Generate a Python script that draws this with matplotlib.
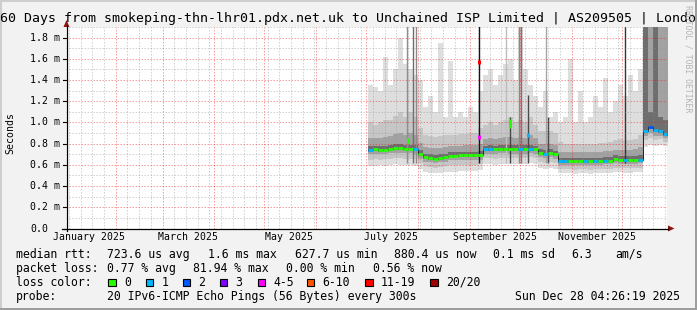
import pandas as pd
import matplotlib
matplotlib.use("Agg")
import matplotlib.pyplot as plt
import matplotlib.dates as mdates
from matplotlib.transforms import blended_transform_factory
from matplotlib.patches import Rectangle, Polygon
from matplotlib.lines import Line2D

W, H = 697, 310
MONO = "DejaVu Sans Mono"

# ---- data: 3-day bins from 2 Jul 2025, round trip times in ms ----
bin_start = pd.date_range("2025-07-02", periods=60, freq="3D")

rtt_median = [0.74, 0.745, 0.74, 0.742, 0.75, 0.755, 0.755, 0.752, 0.752, 0.745,
              0.70, 0.67, 0.665, 0.66, 0.665, 0.67, 0.685, 0.685, 0.69, 0.69,
              0.69, 0.69, 0.69, 0.745, 0.745, 0.745, 0.75, 0.75, 0.745, 0.745,
              0.745, 0.745, 0.75, 0.745, 0.71, 0.705, 0.712, 0.70, 0.635, 0.635,
              0.635, 0.635, 0.635, 0.635, 0.635, 0.635, 0.635, 0.64, 0.64, 0.655,
              0.65, 0.645, 0.645, 0.645, 0.65, 0.92, 0.96, 0.93, 0.92, 0.89]
rtt_p40 = [0.725, 0.73, 0.725, 0.727, 0.735, 0.74, 0.74, 0.737, 0.737, 0.73,
           0.685, 0.655, 0.65, 0.645, 0.65, 0.655, 0.67, 0.67, 0.675, 0.675,
           0.675, 0.675, 0.675, 0.73, 0.73, 0.73, 0.735, 0.735, 0.73, 0.73,
           0.73, 0.73, 0.735, 0.73, 0.695, 0.69, 0.697, 0.685, 0.62, 0.62,
           0.62, 0.62, 0.62, 0.62, 0.62, 0.62, 0.62, 0.625, 0.625, 0.64,
           0.635, 0.63, 0.63, 0.63, 0.635, 0.90, 0.94, 0.91, 0.90, 0.87]
rtt_p60 = [0.775, 0.78, 0.775, 0.78, 0.79, 0.795, 0.795, 0.79, 0.79, 0.785,
           0.74, 0.705, 0.70, 0.695, 0.70, 0.705, 0.72, 0.72, 0.725, 0.725,
           0.725, 0.725, 0.73, 0.78, 0.785, 0.78, 0.785, 0.79, 0.785, 0.785,
           0.785, 0.785, 0.79, 0.78, 0.745, 0.74, 0.75, 0.735, 0.665, 0.665,
           0.665, 0.665, 0.665, 0.665, 0.665, 0.665, 0.665, 0.67, 0.67, 0.69,
           0.685, 0.68, 0.68, 0.68, 0.69, 1.95, 1.10, 1.95, 1.05, 1.02]
rtt_p25 = [0.70, 0.705, 0.70, 0.70, 0.71, 0.715, 0.715, 0.71, 0.71, 0.705,
           0.66, 0.63, 0.625, 0.62, 0.625, 0.63, 0.645, 0.645, 0.65, 0.65,
           0.65, 0.65, 0.65, 0.705, 0.705, 0.705, 0.71, 0.71, 0.705, 0.705,
           0.705, 0.705, 0.71, 0.705, 0.67, 0.665, 0.67, 0.66, 0.60, 0.60,
           0.60, 0.595, 0.60, 0.60, 0.595, 0.60, 0.60, 0.605, 0.605, 0.615,
           0.61, 0.61, 0.61, 0.61, 0.615, 0.87, 0.90, 0.87, 0.87, 0.85]
rtt_p75 = [0.85, 0.85, 0.85, 0.86, 0.87, 0.89, 0.90, 0.88, 0.90, 0.88,
           0.81, 0.77, 0.76, 0.76, 0.76, 0.77, 0.78, 0.78, 0.78, 0.79,
           0.79, 0.79, 0.80, 0.84, 0.85, 0.84, 0.85, 0.86, 0.86, 0.85,
           0.86, 0.85, 0.88, 0.85, 0.80, 0.80, 0.80, 0.79, 0.72, 0.72,
           0.72, 0.72, 0.72, 0.72, 0.72, 0.72, 0.72, 0.73, 0.73, 0.74,
           0.74, 0.74, 0.74, 0.75, 0.77, 1.95, 1.95, 1.95, 1.95, 1.95]
rtt_p10 = [0.65, 0.655, 0.65, 0.655, 0.66, 0.665, 0.665, 0.66, 0.66, 0.655,
           0.62, 0.585, 0.58, 0.575, 0.58, 0.585, 0.595, 0.60, 0.60, 0.60,
           0.60, 0.60, 0.605, 0.665, 0.665, 0.66, 0.665, 0.665, 0.665, 0.665,
           0.665, 0.665, 0.67, 0.665, 0.625, 0.62, 0.625, 0.615, 0.56, 0.56,
           0.56, 0.555, 0.56, 0.56, 0.555, 0.56, 0.56, 0.565, 0.565, 0.575,
           0.57, 0.57, 0.57, 0.57, 0.575, 0.83, 0.85, 0.83, 0.84, 0.82]
rtt_p90 = [1.00, 0.98, 1.00, 1.02, 1.02, 1.06, 1.10, 1.05, 1.10, 1.05,
           0.95, 0.88, 0.87, 0.86, 0.87, 0.88, 0.88, 0.88, 0.89, 0.89,
           0.90, 0.90, 0.95, 0.98, 1.00, 0.98, 1.00, 1.02, 1.05, 1.00,
           1.02, 1.00, 1.05, 0.98, 0.92, 0.92, 0.92, 0.90, 0.82, 0.80,
           0.80, 0.80, 0.80, 0.80, 0.80, 0.80, 0.81, 0.81, 0.82, 0.83,
           0.84, 0.83, 0.83, 0.84, 0.88, 1.95, 1.95, 1.95, 1.95, 1.95]
rtt_min = [0.59, 0.59, 0.60, 0.59, 0.60, 0.61, 0.60, 0.60, 0.60, 0.59,
           0.56, 0.53, 0.52, 0.52, 0.52, 0.53, 0.53, 0.53, 0.54, 0.54,
           0.54, 0.54, 0.55, 0.61, 0.61, 0.60, 0.61, 0.61, 0.61, 0.61,
           0.61, 0.61, 0.62, 0.61, 0.57, 0.56, 0.57, 0.56, 0.52, 0.52,
           0.52, 0.51, 0.52, 0.52, 0.51, 0.52, 0.52, 0.52, 0.52, 0.53,
           0.53, 0.52, 0.52, 0.53, 0.53, 0.77, 0.79, 0.78, 0.79, 0.78]
rtt_max = [1.35, 1.33, 1.30, 1.62, 1.35, 1.50, 1.80, 1.55, 1.50, 1.45,
           1.40, 1.15, 1.25, 1.10, 1.75, 1.05, 1.58, 1.05, 1.10, 1.05,
           1.15, 1.10, 1.30, 1.45, 1.50, 1.35, 1.45, 1.55, 1.60, 1.40,
           1.95, 1.50, 1.35, 1.25, 1.15, 1.30, 1.05, 1.10, 1.00, 1.05,
           1.60, 1.00, 1.30, 1.00, 1.05, 1.25, 1.15, 1.42, 1.10, 1.20,
           1.35, 1.25, 1.45, 1.30, 1.50, 1.95, 1.95, 1.95, 1.95, 1.95]
loss_per_bin = [1, 0, 0, 0, 0, 0, 0, 0, 0, 1,
                0, 0, 0, 0, 0, 0, 0, 0, 0, 0,
                0, 0, 0, 1, 1, 0, 0, 0, 0, 0,
                1, 0, 1, 0, 0, 1, 0, 0, 1, 1,
                0, 0, 0, 1, 0, 1, 0, 1, 0, 0,
                0, 1, 0, 0, 1, 1, 2, 1, 1, 1]

# single slow pings that reach far above the smoke
spike_time = ["2025-07-25 14:00", "2025-07-29 00:00", "2025-07-31 00:00", "2025-09-06 18:00",
              "2025-09-23 00:00", "2025-09-25 00:00", "2025-09-30 10:00", "2025-10-01 22:00",
              "2025-10-05 19:00", "2025-10-16 12:00", "2025-10-18 00:00", "2025-12-03 04:00"]
spike_top = [1.95, 1.95, 1.95, 1.95, 1.95, 1.05, 1.95, 1.95, 1.26, 1.95, 1.05, 1.95]
spike_shade = ["#8e8e8e", "#6e6e6e", "#8a8a8a", "#151515", "#bdbdbd", "#454545",
               "#8a8a8a", "#777777", "#4a4a4a", "#a5a5a5", "#3a3a3a", "#353535"]

# median readings that jump off the line
mark_time = ["2025-07-26 00:00", "2025-09-06 18:00", "2025-09-06 18:00",
             "2025-09-25 00:00", "2025-09-25 00:00", "2025-10-05 19:00"]
mark_rtt = [0.83, 0.86, 1.57, 0.97, 1.01, 0.88]
mark_loss = [0, 4, 15, 0, 0, 1]

loss_labels = ["0", "1", "2", "3", "4-5", "6-10", "11-19", "20/20"]
loss_colors = ["#26ff00", "#00b8ff", "#0059ff", "#7e00ff", "#ff00ff", "#ff5500", "#ff0000", "#a10000"]

month_labels = ["January 2025", "March 2025", "May 2025", "July 2025", "September 2025", "November 2025"]
month_label_at = ["2025-01-16", "2025-03-16", "2025-05-16", "2025-07-16", "2025-09-16", "2025-11-16"]
y_ticks = [0.0, 0.2, 0.4, 0.6, 0.8, 1.0, 1.2, 1.4, 1.6, 1.8]

title = "360 Days from smokeping-thn-lhr01.pdx.net.uk to Unchained ISP Limited | AS209505 | London"
stats_rtt = [("median rtt:", 16), ("723.6 us avg", 107.3), ("1.6 ms max", 208.5), ("627.7 us min", 295),
             ("880.4 us now", 394), ("0.1 ms sd", 493), ("6.3", 571.7), ("am/s", 615)]
stats_loss = [("packet loss:", 16), ("0.77 % avg", 107.3), ("81.94 % max", 193),
              ("0.00 % min", 285.5), ("0.56 % now", 372.7)]
probe_text = "20 IPv6-ICMP Echo Pings (56 Bytes) every 300s"
stamp_text = "Sun Dec 28 04:26:19 2025"

graph_end = pd.Timestamp("2025-12-28 04:26:19")
graph_start = graph_end - pd.Timedelta(days=360)


def loss_color(n):
    if n <= 3:
        return loss_colors[n]
    if n <= 5:
        return loss_colors[4]
    if n <= 10:
        return loss_colors[5]
    if n < 20:
        return loss_colors[6]
    return loss_colors[7]


def ftext(x, y, s, size=8.3, **kw):
    fig.text(x / W, 1 - y / H, s, fontsize=size, family=MONO, va="center", **kw)


fig = plt.figure(figsize=(W / 100, H / 100), dpi=100, facecolor="#f2f2f2")

# 3d frame around the image
for (x0, y0, w, h, c) in [(0, 0, W, 2, "#cecece"), (0, 0, 2, H, "#cecece"),
                          (0, H - 2, W, 2, "#9e9e9e"), (W - 2, 0, 2, H, "#9e9e9e")]:
    fig.add_artist(Rectangle((x0 / W, 1 - (y0 + h) / H), w / W, h / H,
                             transform=fig.transFigure, color=c, lw=0))

ax = fig.add_axes([66 / W, (H - 228.5) / H, 601 / W, 201.5 / H])
ax.set_facecolor("white")
for s in ax.spines.values():
    s.set_visible(False)
ax.set_xticks([])
ax.set_yticks([])
ax.set_xlim(mdates.date2num(graph_start), mdates.date2num(graph_end))
ax.set_ylim(0, 1.9)

# smoke
edges = mdates.date2num(list(bin_start) + [bin_start[-1] + pd.Timedelta(days=3)])


def ext(a):
    return list(a) + [a[-1]]


for lo, hi, c in [(rtt_min, rtt_max, "#dedede"), (rtt_p10, rtt_p90, "#c6c6c6"),
                  (rtt_p25, rtt_p75, "#a2a2a2"), (rtt_p40, rtt_p60, "#6e6e6e")]:
    ax.fill_between(edges, ext(lo), ext(hi), step="post", color=c, lw=0, zorder=2)

ax.vlines(mdates.date2num(pd.to_datetime(spike_time)), 0.62, spike_top,
          colors=spike_shade, lw=1.0, zorder=2.5)

# grid: weekly minor lines (Saturdays), monthly major lines, dotted
weeks = pd.date_range("2025-01-04", "2025-12-28", freq="7D")
months = pd.date_range("2025-02-01", "2025-12-01", freq="MS")
grid_kw = dict(lw=0.72, ls=(0, (1.5, 1.5)), zorder=3)
for d in weeks:
    if d.day != 1:
        ax.axvline(mdates.date2num(d), color="#8f8f8f", alpha=0.4, **grid_kw)
for d in months:
    ax.axvline(mdates.date2num(d), color="#f01010", alpha=0.4, **grid_kw)
for i in range(1, 20):
    major = i % 2 == 0
    ax.axhline(i / 10, color="#f01010" if major else "#8f8f8f", alpha=0.4, **grid_kw)

# median line coloured by loss
ax.step(edges, ext(rtt_median), where="post", color="#202020", lw=0.7, zorder=4)
ax.hlines(rtt_median, edges[:-1], edges[1:], colors=[loss_color(n) for n in loss_per_bin],
          lw=2.0, zorder=5)
for t, v, n in zip(mark_time, mark_rtt, mark_loss):
    tn = mdates.date2num(pd.Timestamp(t))
    ax.plot([tn, tn], [v - 0.02, v + 0.02], color=loss_color(n), lw=2.2,
            solid_capstyle="butt", zorder=6)

# axes, arrows, ticks
fig.add_artist(Line2D([66.5 / W, 66.5 / W], [1 - 231 / H, 1 - 26 / H], color="black", lw=0.9))
fig.add_artist(Line2D([62 / W, 668 / W], [1 - 228.5 / H, 1 - 228.5 / H], color="black", lw=0.9))
fig.add_artist(Polygon([(63.5 / W, 1 - 27 / H), (69.5 / W, 1 - 27 / H), (66.5 / W, 1 - 20 / H)],
                       closed=True, transform=fig.transFigure, color="#8b1414", lw=0))
fig.add_artist(Polygon([(668 / W, 1 - 225.5 / H), (668 / W, 1 - 231.5 / H), (674.5 / W, 1 - 228.5 / H)],
                       closed=True, transform=fig.transFigure, color="#8b1414", lw=0))

ytr = blended_transform_factory(fig.transFigure, ax.transData)
for v in y_ticks:
    ax.plot([63 / W, 66.5 / W], [v, v], transform=ytr, color="black", lw=0.8, clip_on=False)
    lab = "0.0" if v == 0 else f"{v:.1f} m"
    xr = 48.3 if v == 0 else 60
    ax.text(xr / W, v, lab, transform=ytr, ha="right", va="center", fontsize=7.15, family=MONO)

xtr = blended_transform_factory(ax.transData, fig.transFigure)
for lab, d in zip(month_labels, month_label_at):
    ax.text(mdates.date2num(pd.Timestamp(d)), 1 - 237.3 / H, lab, transform=xtr,
            ha="center", va="center", fontsize=7.15, family=MONO)

# texts
ftext(-8, 18.5, title, size=9.57, ha="left")
ftext(10.5, 132.5, "Seconds", size=7.15, ha="center", rotation=90)
fig.text(688 / W, 1 - 5 / H, "RRDTOOL / TOBI OETIKER", rotation=270, fontsize=5.9,
         color="#b4b4b4", family=MONO, ha="center", va="top")

for s, x in stats_rtt:
    ftext(x, 254.3, s, ha="left")
for s, x in stats_loss:
    ftext(x, 268.3, s, ha="left")

ftext(16, 282.3, "loss color:", ha="left")
box_x = [108.3, 145.7, 182.7, 220, 257.7, 306.7, 365, 430.3]
for lab, c, bx in zip(loss_labels, loss_colors, box_x):
    fig.add_artist(Rectangle((bx / W, 1 - 286 / H), 7.5 / W, 7.5 / H, transform=fig.transFigure,
                             facecolor=c, edgecolor="black", lw=0.8))
    ftext(bx + 15.7, 282.3, lab, ha="left")

ftext(16, 296.3, "probe:", ha="left")
ftext(107.3, 296.3, probe_text, ha="left")
ftext(680, 296.3, stamp_text, ha="right")

fig.savefig("out.png", dpi=100, facecolor=fig.get_facecolor())
